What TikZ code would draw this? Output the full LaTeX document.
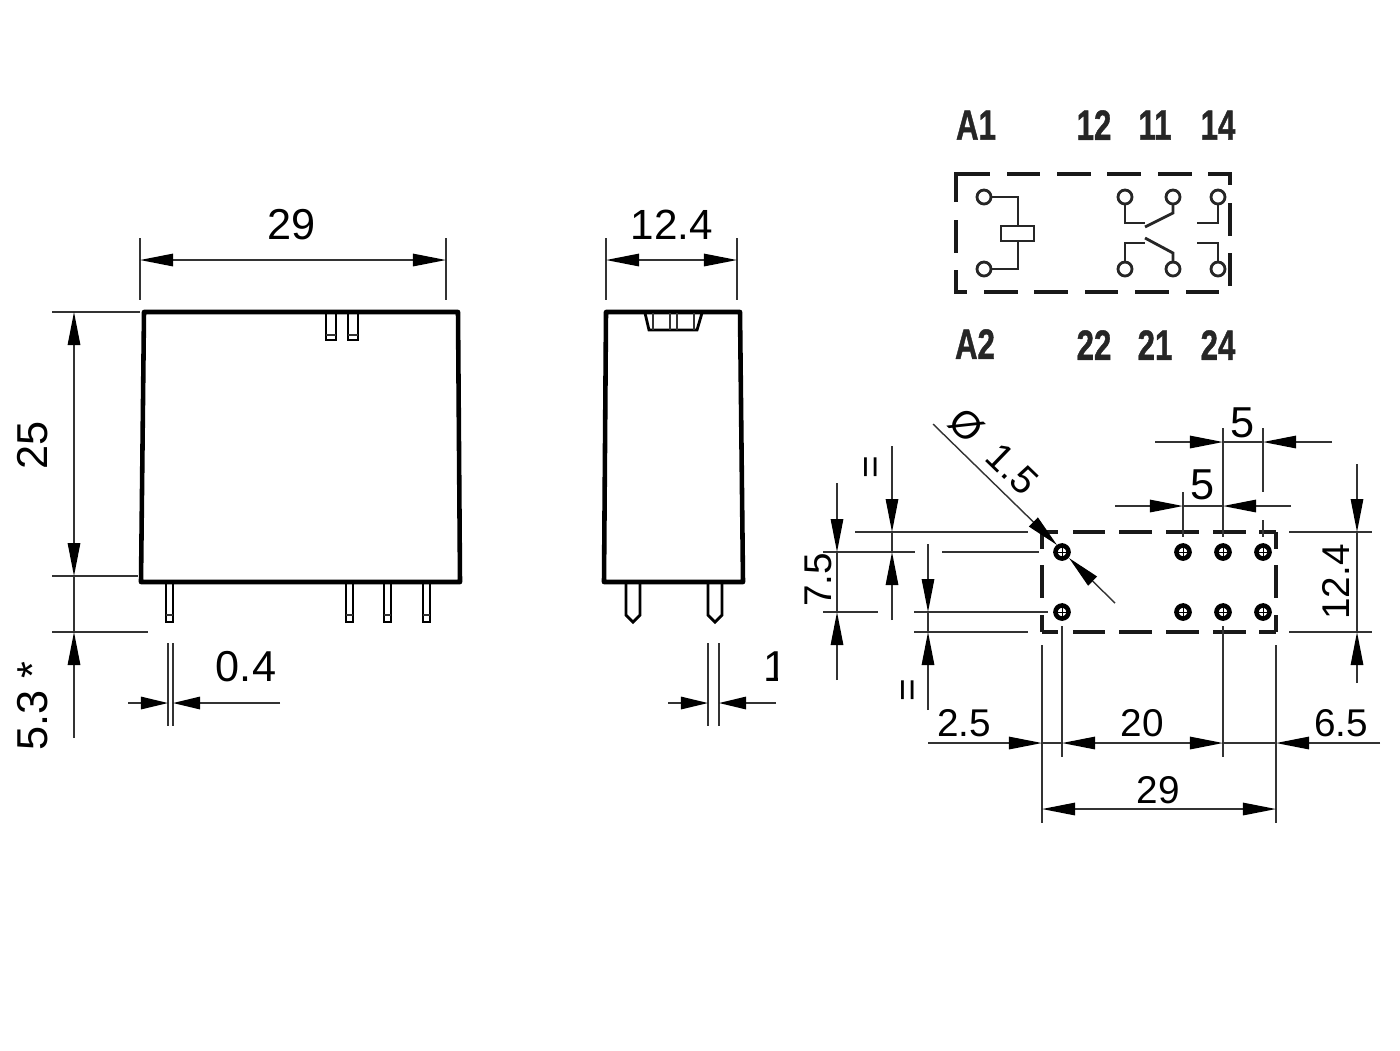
\documentclass[tikz,border=0pt]{standalone}
\usepackage{fontspec}
\setmainfont{Liberation Sans}
\newfontfamily\pinfont[BoldFeatures={FakeBold=1.2}]{Liberation Sans}
\usetikzlibrary{arrows.meta}

\tikzset{
    outline/.style={black, line width=1.3pt, line join=round},
    thinpart/.style={black, line width=0.8pt},
    dimline/.style={black!80, line width=0.4pt},
    tipa/.style={-{Triangle[length=0.33cm,width=0.125cm,color=black]}, dimline},
    tipb/.style={-{Triangle[length=0.27cm,width=0.125cm,color=black]}, dimline},
    dimtext/.style={font=\fontsize{12.3}{14}\selectfont, inner sep=0pt, text=black},
    pcbtext/.style={font=\fontsize{11}{13}\selectfont, inner sep=0pt, text=black},
    pinlabel/.style={font=\fontsize{12}{14}\selectfont\pinfont\bfseries, inner sep=0pt, xscale=0.74, text=black!85},
    schemline/.style={black!85, line width=0.8pt},
    dashline/.style={black!90, line width=0.95pt},
    hole/.style={black, line width=1.3pt}
}

\begin{document}
\begin{tikzpicture}[x=0.01cm, y=-0.01cm]
    \useasboundingbox (0, 0) rectangle (1400, 1050);

    % front view
    \begin{scope}
        \draw[outline] (141, 582) -- (144, 312) -- (458, 312) -- (460, 582) -- cycle;
        \draw[thinpart] (326, 314) -- (326, 340) -- (336, 340) -- (336, 314);
        \draw[thinpart] (348, 314) -- (348, 340) -- (358, 340) -- (358, 314);
        \draw[dimline] (326, 335) -- (336, 335);
        \draw[dimline] (348, 335) -- (358, 335);
        \foreach \px in {166, 346, 384, 423} {
            \draw[thinpart] (\px, 584) -- (\px, 622) -- (\px+7, 622) -- (\px+7, 584);
            \draw[dimline] (\px, 615) -- (\px+7, 615);
        }

        \draw[dimline] (140, 238) -- (140, 300);
        \draw[dimline] (446, 238) -- (446, 300);
        \draw[tipa] (292, 260) -- (140, 260);
        \draw[tipa] (292, 260) -- (446, 260);
        \node[dimtext] (frontwidth) at (292, 225) {29};

        \draw[dimline] (52, 312) -- (140, 312);
        \draw[dimline] (52, 576) -- (138, 576);
        \draw[dimline] (52, 632) -- (148, 632);
        \draw[tipa] (74, 445) -- (74, 312);
        \draw[tipa] (74, 445) -- (74, 576);
        \draw[dimline] (74, 576) -- (74, 632);
        \draw[tipa] (74, 738) -- (74, 632);
        \node[dimtext, rotate=90] (frontheight) at (33, 445) {25};
        \node[dimtext, rotate=90] (pinlength) at (33, 706) {5.3 *};

        \draw[dimline] (168, 643) -- (168, 726);
        \draw[dimline] (173, 643) -- (173, 726);
        \draw[tipb] (128, 703) -- (168, 703);
        \draw[tipb] (280, 703) -- (173, 703);
        \node[dimtext] (pinthick) at (246, 667) {0.4};
    \end{scope}

    % side view
    \begin{scope}
        \draw[outline] (604, 582) -- (606, 312) -- (740, 312) -- (743, 582) -- cycle;
        \draw[thinpart] (645, 313) -- (649, 330) -- (697, 330) -- (702, 313);
        \draw[dimline] (653, 313) -- (653, 330);
        \draw[dimline] (670, 313) -- (670, 330);
        \draw[dimline] (677, 313) -- (677, 330);
        \draw[dimline] (694, 313) -- (694, 330);
        \foreach \px in {626, 708} {
            \draw[thinpart] (\px, 584) -- (\px, 615) -- (\px+7, 622) -- (\px+14, 615) -- (\px+14, 584);
        }

        \draw[dimline] (606, 238) -- (606, 300);
        \draw[dimline] (737, 238) -- (737, 300);
        \draw[tipa] (672, 260) -- (606, 260);
        \draw[tipa] (672, 260) -- (737, 260);
        \node[dimtext, font=\fontsize{12}{14}\selectfont] (sidewidth) at (672, 225) {12.4};

        \draw[dimline] (708, 643) -- (708, 726);
        \draw[dimline] (719, 643) -- (719, 726);
        \draw[tipb] (668, 703) -- (708, 703);
        \draw[tipb] (776, 703) -- (719, 703);
        \begin{scope}
            \clip (740, 640) rectangle (777, 700);
            \node[dimtext, anchor=base west] (sidepin) at (763, 681) {1};
        \end{scope}
    \end{scope}

    % wiring diagram
    \begin{scope}
        \draw[dashline] (956, 202) -- (956, 174) -- (990, 174);
        \foreach \xa/\xb in {1007/1040, 1057/1091, 1107/1141, 1158/1192} {
            \draw[dashline] (\xa, 174) -- (\xb, 174);
        }
        \draw[dashline] (1208, 174) -- (1230, 174) -- (1230, 185);
        \draw[dashline] (956, 220) -- (956, 253);
        \draw[dashline] (956, 270) -- (956, 292) -- (967, 292);
        \foreach \xa/\xb in {984/1018, 1034/1068, 1085/1118, 1135/1169, 1186/1219} {
            \draw[dashline] (\xa, 292) -- (\xb, 292);
        }
        \draw[dashline] (1230, 203) -- (1230, 236);
        \draw[dashline] (1230, 253) -- (1230, 286);

        \foreach \px/\py in {984/197, 984/269, 1125/197, 1173/197, 1218/197, 1125/269, 1173/269, 1218/269} {
            \draw[schemline] (\px, \py) circle (7);
        }
        \draw[schemline] (1001, 226) rectangle (1034, 241);
        \draw[schemline] (991, 197) -- (1018, 197) -- (1018, 226);
        \draw[schemline] (1018, 241) -- (1018, 269) -- (991, 269);

        \draw[schemline] (1125, 204) -- (1125, 223) -- (1145, 223);
        \draw[schemline] (1145, 227) -- (1173, 213) -- (1173, 204);
        \draw[schemline] (1125, 262) -- (1125, 243) -- (1145, 243);
        \draw[schemline] (1145, 238) -- (1173, 253) -- (1173, 262);
        \draw[schemline] (1197, 223) -- (1218, 223) -- (1218, 204);
        \draw[schemline] (1197, 243) -- (1218, 243) -- (1218, 262);

        \foreach \name/\lx/\ly/\txt in {a1/976/125/A1, n12/1094/125/12, n11/1155/125/11, n14/1218/125/14,
                                        a2/975/344/A2, n22/1094/345/22, n21/1155/345/21, n24/1218/345/24} {
            \node[pinlabel] (\name) at (\lx, \ly) {\txt};
        }
    \end{scope}

    % pcb layout
    \begin{scope}
        \foreach \yy in {532, 632} {
            \draw[dashline] (1042, \yy) -- (1058, \yy);
            \draw[dashline] (1073, \yy) -- (1105, \yy);
            \draw[dashline] (1119, \yy) -- (1152, \yy);
            \draw[dashline] (1166, \yy) -- (1199, \yy);
            \draw[dashline] (1213, \yy) -- (1246, \yy);
            \draw[dashline] (1259, \yy) -- (1276, \yy);
        }
        \foreach \xx in {1042, 1276} {
            \draw[dashline] (\xx, 532) -- (\xx, 549);
            \draw[dashline] (\xx, 565) -- (\xx, 598);
            \draw[dashline] (\xx, 615) -- (\xx, 632);
        }
        \foreach \xx in {1062, 1183, 1223, 1263} {
            \foreach \yy in {552, 612} {
                \draw[hole] (\xx, \yy) circle (6.5);
                \draw[black, line width=0.2pt] (\xx-9, \yy) -- (\xx+9, \yy);
                \draw[black, line width=0.2pt] (\xx, \yy-9) -- (\xx, \yy+9);
            }
        }

        % top dimensions
        \draw[dimline] (1223, 428) -- (1223, 537);
        \draw[dimline] (1263, 428) -- (1263, 492);
        \draw[dimline] (1263, 520) -- (1263, 537);
        \draw[dimline] (1183, 492) -- (1183, 537);
        \draw[tipa] (1155, 442) -- (1223, 442);
        \draw[tipa] (1332, 442) -- (1263, 442);
        \draw[dimline] (1223, 442) -- (1263, 442);
        \node[dimtext] (holepitcha) at (1243, 423) {5};
        \draw[tipa] (1115, 506) -- (1183, 506);
        \draw[tipa] (1291, 506) -- (1223, 506);
        \draw[dimline] (1183, 506) -- (1223, 506);
        \node[dimtext] (holepitchb) at (1203, 485) {5};

        % right dimension
        \draw[dimline] (1289, 532) -- (1372, 532);
        \draw[dimline] (1289, 632) -- (1372, 632);
        \draw[tipa] (1357, 464) -- (1357, 532);
        \draw[tipa] (1357, 683) -- (1357, 632);
        \draw[dimline] (1357, 532) -- (1357, 632);
        \node[pcbtext, rotate=90] (pcbheight) at (1336, 582) {12.4};

        % left dimensions
        \draw[dimline] (855, 532) -- (1028, 532);
        \draw[dimline] (823, 552) -- (915, 552);
        \draw[dimline] (942, 552) -- (1039, 552);
        \draw[dimline] (823, 612) -- (878, 612);
        \draw[dimline] (914, 612) -- (1048, 612);
        \draw[dimline] (914, 632) -- (1028, 632);

        \draw[tipa] (837, 483) -- (837, 552);
        \draw[tipa] (837, 680) -- (837, 612);
        \draw[dimline] (837, 552) -- (837, 612);
        \node[pcbtext, rotate=90] (rowpitch) at (818, 580) {7.5};

        \draw[tipa] (892, 446) -- (892, 532);
        \draw[tipa] (892, 620) -- (892, 552);
        \draw[dimline] (892, 532) -- (892, 552);
        \node[pcbtext, rotate=90] (equala) at (874, 467) {=};

        \draw[tipa] (928, 544) -- (928, 612);
        \draw[tipa] (928, 710) -- (928, 632);
        \draw[dimline] (928, 612) -- (928, 632);
        \node[pcbtext, rotate=90] (equalb) at (911, 690) {=};

        % bottom dimensions
        \draw[dimline] (1042, 645) -- (1042, 823);
        \draw[dimline] (1276, 645) -- (1276, 823);
        \draw[dimline] (1062, 626) -- (1062, 757);
        \draw[dimline] (1223, 626) -- (1223, 757);
        \draw[tipa] (928, 743) -- (1042, 743);
        \draw[dimline] (1042, 743) -- (1062, 743);
        \draw[tipa] (1142, 743) -- (1062, 743);
        \draw[tipa] (1142, 743) -- (1223, 743);
        \draw[dimline] (1223, 743) -- (1276, 743);
        \draw[tipa] (1380, 743) -- (1276, 743);
        \node[pcbtext] (edgeleft) at (964, 723) {2.5};
        \node[pcbtext] (holespan) at (1142, 723) {20};
        \node[pcbtext] (edgeright) at (1341, 723) {6.5};
        \draw[tipa] (1159, 809) -- (1042, 809);
        \draw[tipa] (1159, 809) -- (1276, 809);
        \node[pcbtext] (pcbwidth) at (1158, 790) {29};

        % hole diameter
        \draw[tipa] (933, 424) -- (1057, 545);
        \draw[tipa] (1115, 603) -- (1069, 558);
        \node[pcbtext, rotate=-44] (holedia) at (994, 451) {Ø\hspace{6pt}1.5};
    \end{scope}
\end{tikzpicture}
\end{document}
